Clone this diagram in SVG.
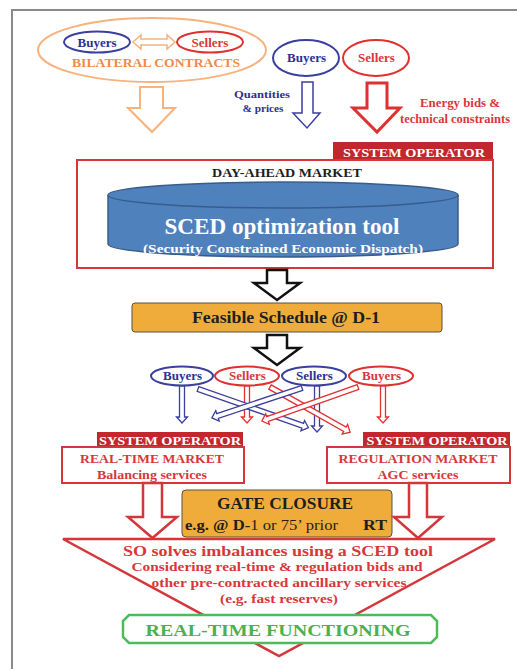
<svg xmlns="http://www.w3.org/2000/svg" width="517" height="669" viewBox="0 0 517 669">
<style>
text{font-family:"Liberation Serif","Times New Roman",serif;font-weight:bold;text-anchor:middle}
.blue{fill:#2e3192}.red{fill:#d8373a}.dark{fill:#1e1e1e}.white{fill:#fff}.orange{fill:#f08a48}.green{fill:#4caf50}
.eb{fill:#fff;stroke:#3b3f9e;stroke-width:2}
.er{fill:#fff;stroke:#e03030;stroke-width:2}
.so{fill:#c1272d}
.box{fill:#fff;stroke:#d4363a;stroke-width:2}
.orb{fill:#f0ac3a;stroke:#5a5040;stroke-width:1}
.ab{fill:#fff;stroke:#3b3f9e;stroke-width:1.3}
.ar{fill:#fff;stroke:#e03030;stroke-width:1.3}
</style>
<rect x="12" y="10" width="520" height="680" fill="none" stroke="#8a8a8a" stroke-width="2"/>

<g id="bilateral">
<ellipse cx="152" cy="50" rx="114" ry="32" fill="#fff" stroke="#f7b27e" stroke-width="2"/>
<ellipse cx="97" cy="42" rx="33" ry="10.5" class="eb"/>
<text x="97" y="47" class="blue" font-size="13">Buyers</text>
<ellipse cx="210" cy="42" rx="33" ry="10.5" class="er"/>
<text x="210" y="47" class="red" font-size="13">Sellers</text>
<path d="M133,42 L141,35 V39 H167 V35 L175,42 L167,49 V45 H141 V49 Z" fill="#fff" stroke="#f7b27e" stroke-width="1.5"/>
<text x="156" y="67" class="orange" font-size="13.5" textLength="168" lengthAdjust="spacingAndGlyphs">BILATERAL CONTRACTS</text>
</g>

<g id="buyers-top">
<ellipse cx="306" cy="58" rx="33" ry="18" class="eb"/>
<text x="306.5" y="62" class="blue" font-size="13">Buyers</text>
</g>
<g id="sellers-top">
<ellipse cx="376" cy="58" rx="33" ry="18" class="er"/>
<text x="376.5" y="62" class="red" font-size="13">Sellers</text>
</g>

<g id="labels-top">
<text x="262" y="98" class="blue" font-size="10.5" textLength="56" lengthAdjust="spacingAndGlyphs">Quantities</text>
<text x="263" y="112" class="blue" font-size="10.5" textLength="41" lengthAdjust="spacingAndGlyphs">&amp; prices</text>
<text x="460" y="107" class="red" font-size="12.5" textLength="80" lengthAdjust="spacingAndGlyphs">Energy bids &amp;</text>
<text x="400" y="123" class="red" font-size="12.5" style="text-anchor:start">technical constraints</text>
</g>

<g id="dayahead">
<rect x="333" y="142" width="160" height="18" class="so"/>
<text x="414" y="157" class="white" font-size="13.5" textLength="142" lengthAdjust="spacingAndGlyphs">SYSTEM OPERATOR</text>
<rect x="77" y="160" width="416" height="108" class="box"/>
<text x="287" y="177" class="dark" font-size="13" textLength="150" lengthAdjust="spacingAndGlyphs">DAY-AHEAD MARKET</text>
<path d="M108,195 V244 A175,13 0 0 0 458,244 V195" fill="#4f81bd" stroke="#385d8a" stroke-width="1.5"/>
<ellipse cx="283" cy="195" rx="175" ry="13" fill="#4f81bd" stroke="#385d8a" stroke-width="1.5"/>
<text x="282" y="234" class="white" font-size="23" textLength="235" lengthAdjust="spacingAndGlyphs">SCED optimization tool</text>
<text x="283" y="253" class="white" font-size="12" textLength="280" lengthAdjust="spacingAndGlyphs">(Security Constrained Economic Dispatch)</text>
</g>

<g id="feasible">
<rect x="132" y="303" width="310" height="29" rx="3" class="orb"/>
<text x="286" y="323" class="dark" font-size="16" textLength="188" lengthAdjust="spacingAndGlyphs">Feasible Schedule @ D-1</text>
</g>

<g id="participants">
<ellipse cx="182" cy="376" rx="31" ry="9.5" class="eb"/>
<text x="182.5" y="380" class="blue" font-size="13">Buyers</text>
<ellipse cx="247" cy="376" rx="32" ry="9.5" class="er"/>
<text x="247.5" y="380" class="red" font-size="13">Sellers</text>
<ellipse cx="314" cy="376" rx="32" ry="9.5" class="eb"/>
<text x="314.5" y="380" class="blue" font-size="13">Sellers</text>
<ellipse cx="381" cy="376" rx="32" ry="9.5" class="er"/>
<text x="381.5" y="380" class="red" font-size="13">Buyers</text>
</g>

<g id="rt-market">
<rect x="97" y="432" width="146" height="15" class="so"/>
<text x="170" y="445" class="white" font-size="13" textLength="142" lengthAdjust="spacingAndGlyphs">SYSTEM OPERATOR</text>
<rect x="62" y="447" width="182" height="36" class="box"/>
<text x="152" y="463" class="red" font-size="13.5" textLength="144" lengthAdjust="spacingAndGlyphs">REAL-TIME MARKET</text>
<text x="152" y="479" class="red" font-size="13" textLength="110" lengthAdjust="spacingAndGlyphs">Balancing services</text>
</g>

<g id="reg-market">
<rect x="363" y="432" width="147" height="15" class="so"/>
<text x="437" y="445" class="white" font-size="13" textLength="141" lengthAdjust="spacingAndGlyphs">SYSTEM OPERATOR</text>
<rect x="327" y="447" width="183" height="36" class="box"/>
<text x="418" y="463" class="red" font-size="13.5" textLength="159" lengthAdjust="spacingAndGlyphs">REGULATION MARKET</text>
<text x="418" y="479" class="red" font-size="13" textLength="81" lengthAdjust="spacingAndGlyphs">AGC services</text>
</g>

<g id="imbalance">
<polygon points="63,539 495,539 279,656" fill="#fff" stroke="#d4363a" stroke-width="2.5"/>
<text x="278" y="556" class="red" font-size="15.5" textLength="310" lengthAdjust="spacingAndGlyphs">SO solves imbalances using a SCED tool</text>
<text x="277" y="571" class="red" font-size="12.5" textLength="291" lengthAdjust="spacingAndGlyphs">Considering real-time &amp; regulation bids and</text>
<text x="279" y="587" class="red" font-size="12.5" textLength="255" lengthAdjust="spacingAndGlyphs">other pre-contracted ancillary services</text>
<text x="279" y="603" class="red" font-size="12.5" textLength="118" lengthAdjust="spacingAndGlyphs">(e.g. fast reserves)</text>
</g>

<g id="gate">
<rect x="182" y="490" width="210" height="47" rx="4" class="orb"/>
<text x="285" y="509" class="dark" font-size="17" textLength="136" lengthAdjust="spacingAndGlyphs">GATE CLOSURE</text>
<text x="185" y="530" class="dark" font-size="15" style="text-anchor:start" textLength="153" lengthAdjust="spacingAndGlyphs">e.g. @ D-<tspan font-weight="normal">1 or 75’ prior</tspan></text>
<text x="375" y="530" class="dark" font-size="15" textLength="24" lengthAdjust="spacingAndGlyphs">RT</text>
</g>

<g id="realtime-functioning">
<path d="M129,615 H431 L437,621 V637 L431,643 H129 L123,637 V621 Z" fill="#fff" stroke="#4cbb5a" stroke-width="2.5"/>
<text x="278" y="636" class="green" font-size="17" textLength="265" lengthAdjust="spacingAndGlyphs">REAL-TIME FUNCTIONING</text>
</g>

<g id="connectors">
<path d="M140,87 H163 V108 H175 L152,132 L128,108 H140 Z" fill="#fff" stroke="#f7b27e" stroke-width="2"/>
<path d="M302,82 H313 V113 H320 L307,128 L293,113 H302 Z" fill="#fff" stroke="#3b3f9e" stroke-width="1.5"/>
<path d="M367,83 H387 V108 H400 L377,132 L353,108 H367 Z" fill="#fff" stroke="#e03030" stroke-width="3"/>
<path d="M267,270 H287 V283 H300 L277,300 L254,283 H267 Z" fill="#fff" stroke="#111" stroke-width="2.5"/>
<path d="M267,335 H287 V348 H300 L277,365 L254,348 H267 Z" fill="#fff" stroke="#111" stroke-width="2.5"/>
<path d="M0,-2.5 H31 V-5.5 L37,0 L31,5.5 V2.5 H0 Z" class="ab" transform="translate(182,386) rotate(90)"/>
<path d="M0,-2.5 H31 V-5.5 L37,0 L31,5.5 V2.5 H0 Z" class="ar" transform="translate(247,386) rotate(90)"/>
<path d="M0,-2.5 H40 V-5.5 L46,0 L40,5.5 V2.5 H0 Z" class="ab" transform="translate(317,386) rotate(90)"/>
<path d="M0,-2.5 H31 V-5.5 L37,0 L31,5.5 V2.5 H0 Z" class="ar" transform="translate(383,386) rotate(90)"/>
<path d="M0,-2.5 H111 V-5.5 L117,0 L111,5.5 V2.5 H0 Z" class="ab" transform="translate(198,389) rotate(19.3)"/>
<path d="M0,-2.5 H86 V-5.5 L92,0 L86,5.5 V2.5 H0 Z" class="ar" transform="translate(270,387) rotate(29.4)"/>
<path d="M0,-2.5 H89 V-5.5 L95,0 L89,5.5 V2.5 H0 Z" class="ab" transform="translate(302,388) rotate(161.7)"/>
<path d="M0,-2.5 H96 V-5.5 L102,0 L96,5.5 V2.5 H0 Z" class="ar" transform="translate(358,387) rotate(160.5)"/>
<path d="M143,483 H162 V517 H177 L152.5,538 L128,517 H143 Z" fill="#fff" stroke="#d4363a" stroke-width="2.5"/>
<path d="M409,483 H427 V517 H442 L418,538 L394,517 H409 Z" fill="#fff" stroke="#d4363a" stroke-width="2.5"/>
</g>
</svg>
